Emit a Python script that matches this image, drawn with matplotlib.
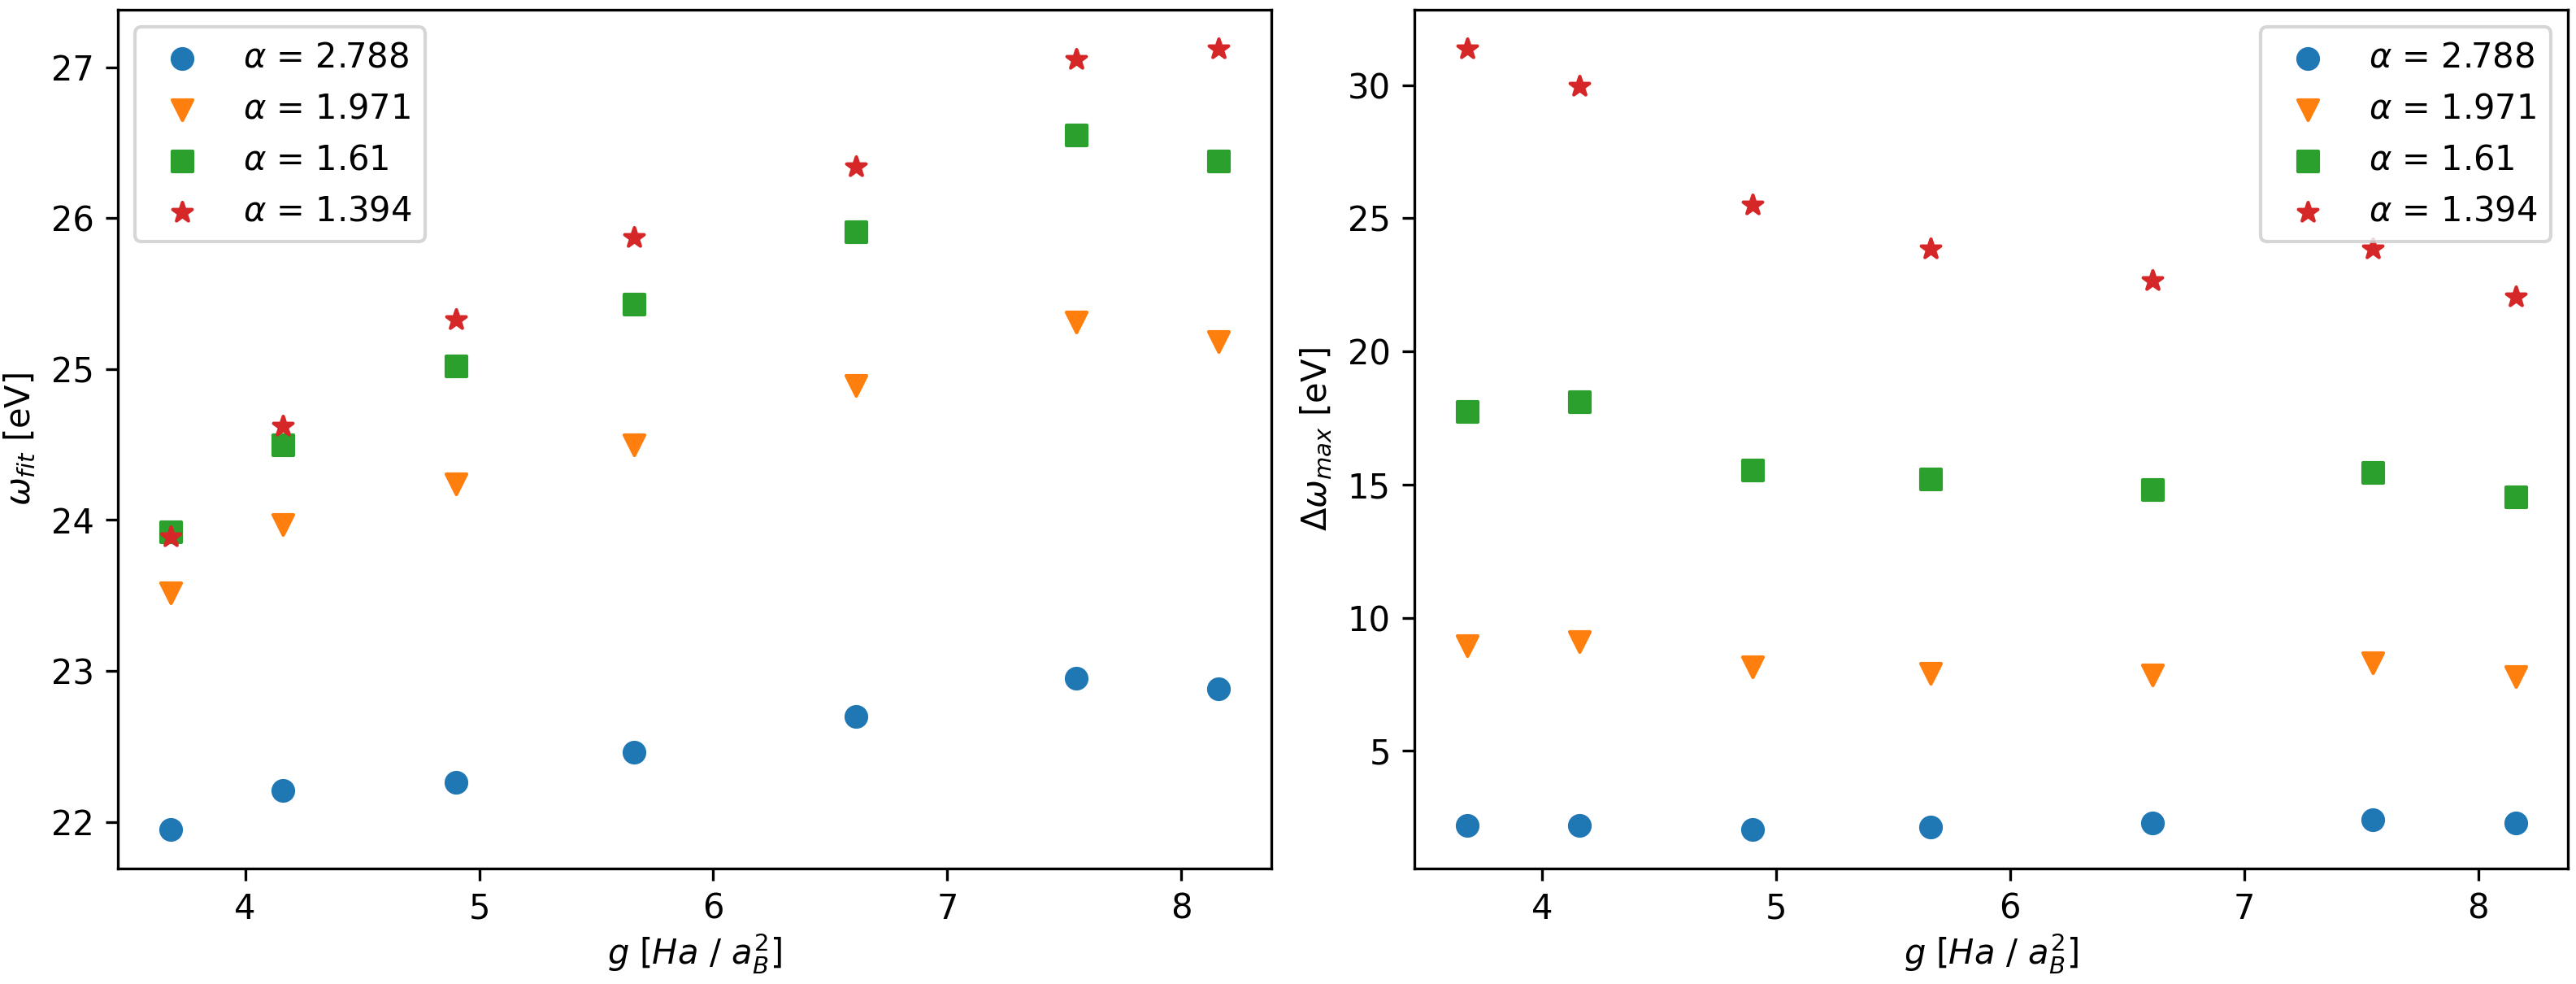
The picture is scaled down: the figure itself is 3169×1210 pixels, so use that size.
import matplotlib
matplotlib.use("Agg")
import matplotlib.pyplot as plt
import numpy as np

# coupling strength g [Ha / a_B^2]
g = [3.68, 4.16, 4.90, 5.66, 6.61, 7.55, 8.16]

alphas = ["2.788", "1.971", "1.61", "1.394"]
markers = ["o", "v", "s", "*"]

# fitted omega [eV]
w_fit_2788 = [21.95, 22.21, 22.26, 22.46, 22.70, 22.95, 22.88]
w_fit_1971 = [23.52, 23.97, 24.24, 24.50, 24.89, 25.31, 25.18]
w_fit_161 = [23.92, 24.50, 25.02, 25.43, 25.91, 26.55, 26.38]
w_fit_1394 = [23.89, 24.62, 25.33, 25.87, 26.34, 27.05, 27.12]

# delta omega max [eV]
dw_max_2788 = [2.20, 2.20, 2.05, 2.15, 2.30, 2.40, 2.30]
dw_max_1971 = [8.95, 9.10, 8.15, 7.90, 7.85, 8.30, 7.80]
dw_max_161 = [17.75, 18.10, 15.55, 15.20, 14.80, 15.45, 14.55]
dw_max_1394 = [31.35, 29.95, 25.50, 23.85, 22.65, 23.85, 22.05]

w_fit = [w_fit_2788, w_fit_1971, w_fit_161, w_fit_1394]
dw_max = [dw_max_2788, dw_max_1971, dw_max_161, dw_max_1394]

fig = plt.figure(figsize=(3169 / 300, 1210 / 300))
ax1 = fig.add_axes([0.04576, 0.1175, 0.4477, 0.8722])
ax2 = fig.add_axes([0.5491, 0.1175, 0.4478, 0.8722])

for a, m, y in zip(alphas, markers, w_fit):
    ax1.scatter(g, y, marker=m, label=r"$\alpha$ = " + a)
for a, m, y in zip(alphas, markers, dw_max):
    ax2.scatter(g, y, marker=m, label=r"$\alpha$ = " + a)

ax1.set_xlabel(r"$g\ [Ha\ /\ a_B^2]$", labelpad=1.5)
ax1.set_ylabel(r"$\omega_{fit}$ [eV]")
ax1.legend(loc="upper left")

ax2.set_xlabel(r"$g\ [Ha\ /\ a_B^2]$", labelpad=1.5)
ax2.set_ylabel(r"$\Delta\omega_{max}$ [eV]")
ax2.legend(loc="upper right")

fig.savefig("out.png", dpi=300)
